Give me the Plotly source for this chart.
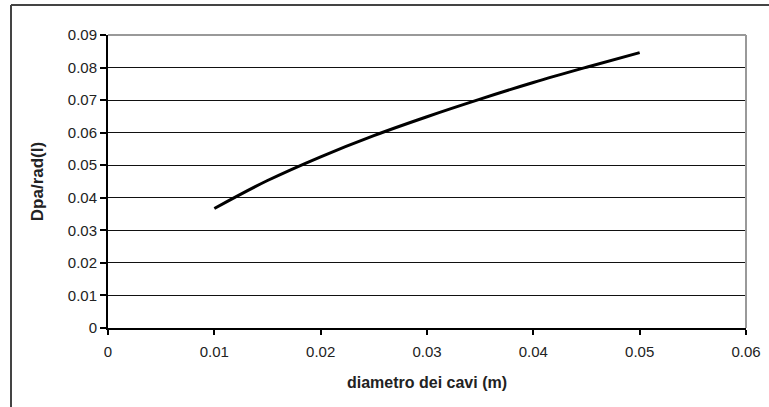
import plotly.graph_objects as go

# Data
diametro = [0.010, 0.015, 0.020, 0.025, 0.030, 0.035, 0.040, 0.045, 0.050]
dpa_rad = [0.0367, 0.0453, 0.0526, 0.0591, 0.0649, 0.0703, 0.0754, 0.0801, 0.0846]

x_tickvals = [0, 0.01, 0.02, 0.03, 0.04, 0.05, 0.06]
x_ticktext = ["0", "0.01", "0.02", "0.03", "0.04", "0.05", "0.06"]
y_tickvals = [0, 0.01, 0.02, 0.03, 0.04, 0.05, 0.06, 0.07, 0.08, 0.09]
y_ticktext = ["0", "0.01", "0.02", "0.03", "0.04", "0.05", "0.06", "0.07", "0.08", "0.09"]

W, H = 769, 407
L, R, T, B = 108, 23, 35, 79
pw, ph = W - L - R, H - T - B

fig = go.Figure()
fig.add_trace(go.Scatter(x=diametro, y=dpa_rad, mode="lines",
                         line=dict(color="black", width=3, shape="spline"),
                         showlegend=False, hoverinfo="skip"))

font_family = "Liberation Sans, Arial, sans-serif"
fig.update_layout(
    width=W, height=H,
    margin=dict(l=L, r=R, t=T, b=B, autoexpand=False),
    paper_bgcolor="white", plot_bgcolor="white",
    font=dict(family=font_family, color="#222", size=14),
    xaxis=dict(range=[0, 0.06], tickvals=x_tickvals, ticktext=x_ticktext, automargin=False,
               showgrid=False, zeroline=False, showline=True, linecolor="black", linewidth=2,
               ticks="outside", ticklen=5, tickwidth=1.5, tickcolor="black",
               ticklabelstandoff=4,
               tickfont=dict(size=15, color="#222"),
               title=dict(text="<b>diametro dei cavi (m)</b>", font=dict(size=16, color="#222"), standoff=18)),
    yaxis=dict(range=[0, 0.09], tickvals=y_tickvals, ticktext=y_ticktext, automargin=False,
               showgrid=True, gridcolor="#111", gridwidth=1.3, zeroline=False,
               showline=True, linecolor="black", linewidth=2,
               ticks="outside", ticklen=6, tickwidth=1.5, tickcolor="black",
               tickfont=dict(size=15, color="#222"),
               title=dict(text="<b>Dpa/rad(I)</b>", font=dict(size=17, color="#222"), standoff=20)),
    shapes=[
        # top and right border of plot area (gray)
        dict(type="line", xref="paper", yref="paper", x0=0, x1=1, y0=1, y1=1,
             line=dict(color="#999", width=2), layer="above"),
        dict(type="line", xref="paper", yref="paper", x0=1, x1=1, y0=0, y1=1,
             line=dict(color="#999", width=2), layer="above"),
        # outer frame (left and top visible)
        dict(type="line", xref="paper", yref="paper",
             x0=(11 - L) / pw, x1=(11 - L) / pw,
             y0=-0.5, y1=(H - B - 5) / ph,
             line=dict(color="#444", width=2)),
        dict(type="line", xref="paper", yref="paper",
             x0=(11 - L) / pw, x1=(W + 20 - L) / pw,
             y0=(H - B - 5) / ph, y1=(H - B - 5) / ph,
             line=dict(color="#444", width=2)),
    ],
)

fig.write_html("out.html", config={"displayModeBar": False},
               post_script="document.body.style.margin='0';document.body.style.overflow='hidden';")
